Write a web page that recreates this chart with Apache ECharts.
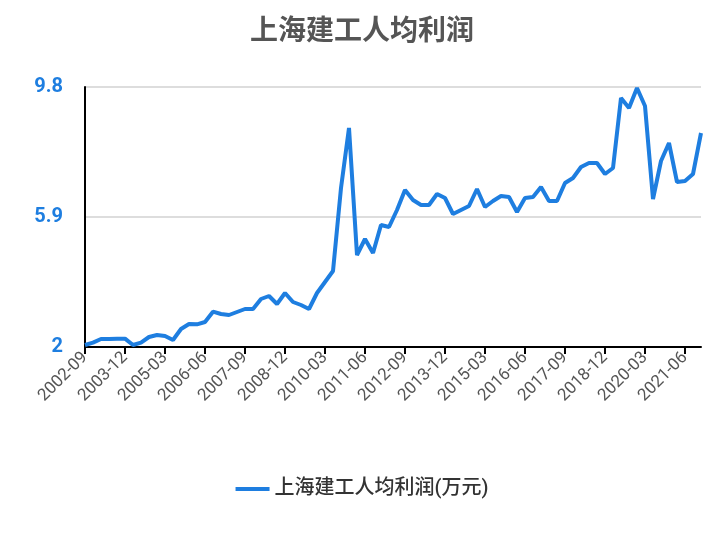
<html>
<head>
<script src="https://cdn.jsdelivr.net/npm/echarts@6/dist/echarts.min.js"></script>
</head>
<body style="margin:0">
<div id="main" style="width:724px;height:540px"></div>
<script>
var seriesName = '上海建工人均利润(万元)';
var quarters = [];
for (var y = 2002; y <= 2021; y++) {
  ['03', '06', '09', '12'].forEach(function (m) {
    if (y === 2002 && (m === '03' || m === '06')) return;
    quarters.push(y + '-' + m);
  });
}
var profit = [
  2.06, 2.13, 2.24, 2.24, 2.25, 2.25, 2.06, 2.13, 2.3, 2.36, 2.33, 2.21, 2.54, 2.69, 2.68, 2.75,
  3.06, 2.99, 2.96, 3.05, 3.14, 3.14, 3.44, 3.53, 3.29, 3.62, 3.35, 3.26, 3.14, 3.62, 3.95, 4.28,
  6.77, 8.57, 4.76, 5.24, 4.82, 5.66, 5.6, 6.11, 6.71, 6.41, 6.26, 6.26, 6.59, 6.47, 5.99, 6.11,
  6.23, 6.74, 6.2, 6.38, 6.53, 6.5, 6.05, 6.47, 6.5, 6.8, 6.38,
  6.38, 6.92, 7.07, 7.4, 7.52, 7.52, 7.19, 7.37, 9.47, 9.17, 9.77, 9.23, 6.44, 7.58, 8.12, 6.95,
  6.98, 7.19, 8.42
];
var chart = echarts.init(document.getElementById('main'));
chart.setOption({
  textStyle: { fontFamily: 'Roboto, "Noto Sans CJK SC", sans-serif' },
  title: {
    text: '上海建工人均利润', left: 'center', top: 14,
    textStyle: { fontSize: 28, fontWeight: 'bold', color: '#555' }
  },
  legend: {
    bottom: 36, itemWidth: 34, itemHeight: 4, icon: 'rect', itemGap: 10,
    textStyle: { fontSize: 20, fontWeight: 500, color: '#333' },
    data: [seriesName]
  },
  grid: { left: 85, right: 23, top: 87, bottom: 193, containLabel: false },
  xAxis: {
    type: 'category', boundaryGap: false, data: quarters,
    axisLine: { lineStyle: { color: '#000', width: 2 } },
    axisTick: { interval: 4, length: 7, lineStyle: { color: '#000', width: 2 } },
    axisLabel: { interval: 4, rotate: 45, fontSize: 17, color: '#555', margin: 8 }
  },
  yAxis: {
    type: 'value', min: 2, max: 9.8, interval: 3.9,
    axisLine: { show: true, lineStyle: { color: '#000', width: 2 } },
    axisTick: { show: false },
    splitLine: { lineStyle: { color: '#ddd', width: 2 } },
    axisLabel: { fontSize: 20, fontWeight: 'bold', color: '#1e7ee0', margin: 22 }
  },
  series: [{
    name: seriesName, type: 'line', data: profit, showSymbol: false,
    lineStyle: { color: '#1e7ee0', width: 4 }, itemStyle: { color: '#1e7ee0' }
  }]
});
</script>
</body>
</html>
